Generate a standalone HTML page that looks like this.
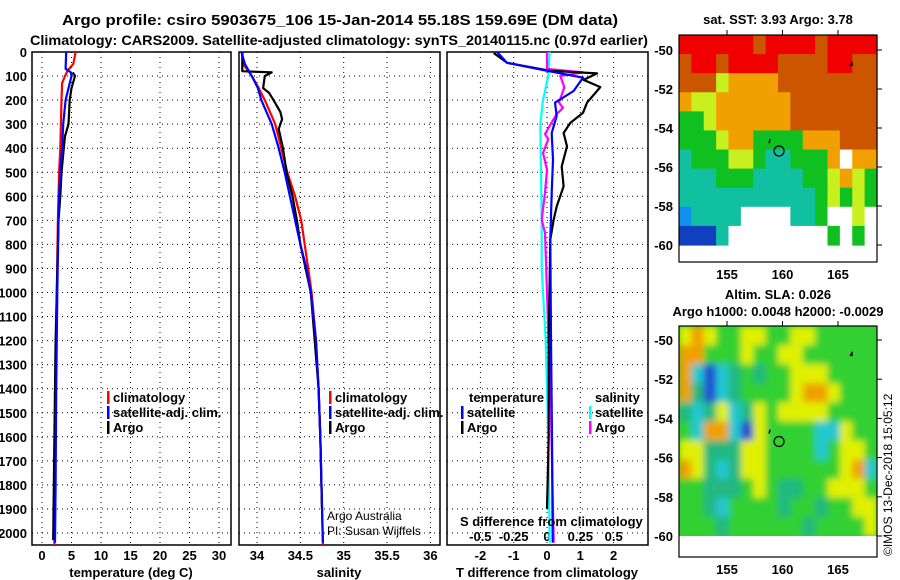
<!DOCTYPE html>
<html><head><meta charset="utf-8"><style>
html,body{margin:0;padding:0;background:#fff;}
svg{display:block;font-family:"Liberation Sans",sans-serif;}
.t{font-weight:bold;font-size:13px;fill:#000;}
.grid{stroke:#000;stroke-width:1;stroke-dasharray:1,4;}
</style></head><body>
<svg id="chart" width="900" height="580" viewBox="0 0 900 580">
<defs>
<filter id="blur" x="-5%" y="-5%" width="110%" height="110%"><feGaussianBlur stdDeviation="3.5"/></filter>
<clipPath id="clipSla"><rect x="679" y="326" width="198" height="210"/></clipPath>
</defs>
<text x="340" y="25" text-anchor="middle" class="t" style="font-size:15px" textLength="556" lengthAdjust="spacingAndGlyphs">Argo profile: csiro 5903675_106 15-Jan-2014 55.18S 159.69E (DM data)</text>
<text x="30" y="45" class="t" style="font-size:14px" textLength="618" lengthAdjust="spacingAndGlyphs">Climatology: CARS2009. Satellite-adjusted climatology: synTS_20140115.nc (0.97d earlier)</text>
<g id="g"></g>
</svg>
<script>
// ---- data ----
const tempClimDepth=[0,50,75,100,130,200,300,400,500,600,700,1000,1400,1800,2050];
const tempClim=[5.7,5.3,4.4,3.9,3.4,3.3,3.2,3.1,2.9,2.8,2.7,2.5,2.3,2.2,2.1];
const tempSatDepth=[0,70,85,100,150,200,300,400,500,600,700,1000,1400,1800,2040];
const tempSat=[4.1,4.0,4.9,5.0,4.5,4.0,3.6,3.4,3.1,2.9,2.8,2.6,2.4,2.3,2.2];
const tempArgoDepth=[85,100,150,200,250,300,350,400,500,600,700,800,1000,1200,1600,2030];
const tempArgo=[5.2,5.6,5.0,4.7,4.6,4.5,3.9,3.7,3.3,3.1,2.8,2.7,2.5,2.3,2.1,1.9];
const salClimDepth=[0,50,100,150,200,300,400,500,600,700,800,900,1000,1200,1400,1600,2050];
const salClim=[33.83,33.84,33.94,34.02,34.09,34.21,34.28,34.35,34.44,34.51,34.55,34.59,34.63,34.68,34.71,34.73,34.76];
const salSatDepth=[0,50,100,150,200,300,400,500,600,700,800,900,1000,1200,1400,1600,2040];
const salSat=[33.82,33.86,33.94,34.01,34.05,34.17,34.25,34.32,34.38,34.44,34.5,34.57,34.62,34.68,34.71,34.73,34.76];
const salArgoDepth=[0,80,85,100,150,170,200,250,280,320,400,500,600,700,800,1000,1400,1600,1900];
const salArgo=[33.83,33.83,34.17,34.09,34.07,34.14,34.19,34.27,34.29,34.25,34.30,34.34,34.41,34.46,34.5,34.62,34.71,34.73,34.75];
const tdSatDepth=[0,45,78,107,162,211,266,337,448,586,780,1200,1600,2040];
const tdSat=[-1.5,-1.2,0,1.08,0.8,0.24,0.29,0.14,0.18,0.14,0.1,0.12,0.15,0.17];
const tdArgoDepth=[4,45,78,89,116,146,211,253,295,337,392,476,559,642,697,780,1200,1600,1900];
const tdArgo=[-1.6,-1.2,0.1,1.5,1.1,1.6,1.2,1.08,0.7,0.5,0.6,0.44,0.5,0.29,0.2,0.1,0.05,0.05,0.0];
const sdSatDepth=[0,100,200,300,500,700,900,1200,1600,2040];
const sdSat=[0.02,0.01,-0.03,-0.05,-0.045,-0.04,-0.04,-0.01,0.01,0.02];
const sdArgoDepth=[0,70,85,100,146,211,232,260,341,362,420,489,586,697,752,1000,1500,2040];
const sdArgo=[0,0,0.27,0.1,0.13,0.09,0.12,0.07,-0.015,0.01,-0.03,0,-0.015,-0.04,-0.015,0.0,0.03,0.05];
const depthTicks=[0,100,200,300,400,500,600,700,800,900,1000,1100,1200,1300,1400,1500,1600,1700,1800,1900,2000];
const tempTicks=[0,5,10,15,20,25,30];
const salTicks=[34,34.5,35,35.5,36];
const tdTicks=[-2,-1,0,1,2];
const sdTicks=[-0.5,-0.25,0,0.25,0.5];
const mapLatTicks=[-50,-52,-54,-56,-58,-60];
const mapLonTicks=[155,160,165];
const sstRows=["RRRRRRORRRRORRRR","ORRORRRROOOORROO","OOOYooooOOOOOOOO","oYYooooooOOOOOOO","GGYooooooOOOOOOO","GGGYooGGGGoooOOO","TGGGYYGTTGGGoWoo","TTTGGGTTTTGGYoYG","TTTTTTTTTTTGYGYG","CTTTTWWWWTTGWWYW","BBBTWWWWWWWWGWGW"];
const slaRows=["yoyggyyggyyggggg","oogggyggyygggggg","ocbcGgGggyyygggg","oGbcGggggyooyggg","GcGycGygyyyygggg","gcoocbyggggccygg","yyGGGyyggggcgyyg","oyGcGyyggggggyoc","ggGGGgygGGggyyyg","ggGcggggGggGggyy","gggGggggggGggggy"];
const profLon=159.69, profLat=-55.18;
// ---- helpers / axes ----
const NS="http://www.w3.org/2000/svg";
const G=document.getElementById('g');
function mk(tag,attrs,parent){const e=document.createElementNS(NS,tag);for(const k in attrs)e.setAttribute(k,attrs[k]);(parent||G).appendChild(e);return e;}
const y0=52, pxPer=0.2405, yBot=545;
const depthY=d=>y0+d*pxPer;
const panels=[
 {x0:32,x1:231,sc:v=>42+v*5.9},
 {x0:239,x1:440,sc:v=>257+(v-34)*86.7},
 {x0:447,x1:648,sc:v=>547+v*33.3}
];
const sdX=v=>547+v*133.3;
panels.forEach((p,i)=>{
 const fr=mk('rect',{x:p.x0,y:y0,width:p.x1-p.x0,height:yBot-y0,fill:'none',stroke:'#000','stroke-width':1.5});
 
 
 depthTicks.forEach(d=>{const l=mk('line',{x1:p.x0,x2:p.x1,y1:depthY(d),y2:depthY(d),class:'grid'});
  
  });
 const ticks=i==0?tempTicks:i==1?salTicks:tdTicks;
 ticks.forEach(v=>{const x=p.sc(v);const l=mk('line',{x1:x,x2:x,y1:y0,y2:yBot,class:'grid'});
  
  
  const t=mk('text',{x:x,y:560,'text-anchor':'middle',class:'t'});t.textContent=v;
  
  });
});
depthTicks.forEach(d=>{const t=mk('text',{x:27,y:depthY(d)+5,'text-anchor':'end',class:'t'});t.textContent=d;
 
 });
sdTicks.forEach(v=>{const t=mk('text',{x:sdX(v),y:541,'text-anchor':'middle',class:'t'});t.textContent=v;
 
 });
function line(depths,vals,sc,color,name){
 const pts=depths.map((d,k)=>sc(vals[k]).toFixed(1)+','+depthY(d).toFixed(1)).join(' ');
 const pl=mk('polyline',{points:pts,fill:'none',stroke:color,'stroke-width':2.2,'stroke-linejoin':'round'});
 
 
}
line(tempClimDepth,tempClim,panels[0].sc,'#f00','temp-climatology-line');
line(tempArgoDepth,tempArgo,panels[0].sc,'#000','temp-argo-line');
line(tempSatDepth,tempSat,panels[0].sc,'#00f','temp-satellite-line');
line(salClimDepth,salClim,panels[1].sc,'#f00','sal-climatology-line');
line(salArgoDepth,salArgo,panels[1].sc,'#000','sal-argo-line');
line(salSatDepth,salSat,panels[1].sc,'#00f','sal-satellite-line');
line(sdSatDepth,sdSat,sdX,'#0ff','s-diff-satellite-line');
line(sdArgoDepth,sdArgo,sdX,'#f0f','s-diff-argo-line');
line(tdArgoDepth,tdArgo,panels[2].sc,'#000','t-diff-argo-line');
line(tdSatDepth,tdSat,panels[2].sc,'#00f','t-diff-satellite-line');
function txt(x,y,s,name,extra){const t=mk('text',Object.assign({x:x,y:y,class:'t'},extra||{}));t.textContent=s;
 
 return t;}
function leg(x,y,color,s,name){const r=mk('rect',{x:x,y:y-11,width:2.5,height:13,fill:color});
 
 
 txt(x+6,y,s,name);}
leg(107,402,'#f00','climatology','legend-climatology');
leg(107,417,'#00f','satellite-adj. clim.','legend-satellite-adj');
leg(107,432,'#000','Argo','legend-argo');
leg(329,402,'#f00','climatology','legend2-climatology');
leg(329,417,'#00f','satellite-adj. clim.','legend2-satellite-adj');
leg(329,432,'#000','Argo','legend2-argo');
txt(469,402,'temperature','legend-temperature-header');
leg(461,417,'#00f','satellite','legend-t-satellite');
leg(461,432,'#000','Argo','legend-t-argo');
txt(595,402,'salinity','legend-salinity-header');
leg(589,417,'#0ff','satellite','legend-s-satellite');
leg(589,432,'#f0f','Argo','legend-s-argo');
txt(327,520,'Argo Australia','argo-australia-label',{style:'font-weight:normal;font-size:12px'});
txt(327,535,'PI: Susan Wijffels','pi-label',{style:'font-weight:normal;font-size:12px'});
txt(460,526,'S difference from climatology','s-diff-axis-title');
txt(131,577,'temperature (deg C)','temp-axis-title',{'text-anchor':'middle'});
txt(339,577,'salinity','sal-axis-title',{'text-anchor':'middle'});
txt(547,577,'T difference from climatology','t-diff-axis-title',{'text-anchor':'middle'});
// ---- maps ----
const mx0=679,mx1=877;
const lonX=lo=>727+(lo-155)*11.1;
const sstColors={R:'#f00000',O:'#cc5500',o:'#f0a000',Y:'#c8f020',G:'#10c020',T:'#10c0a0',C:'#1090f0',B:'#1040c0',W:'#ffffff'};
const slaColors={g:'#30d030',G:'#20b880',y:'#e0f000',o:'#f0a000',c:'#20c8d0',b:'#2050d0'};
function drawMap(top,bot,latY,rows,colors,title1,title2,blur,nm){
 const dataTop=top, dataBot=latY(-60);
 const grp=mk('g',{});
 
 
 let inner=grp;
 if(blur){mk('rect',{x:mx0,y:dataTop,width:mx1-mx0,height:dataBot-dataTop,fill:'#30d030'},grp);
  const c=mk('g',{'clip-path':'url(#clipSla)'},grp);inner=mk('g',{filter:'url(#blur)'},c);}
 const nr=rows.length, rh=(dataBot-dataTop)/nr;
 rows.forEach((row,r)=>{const cells=row.slice(0,16);const nc=cells.length,cw=(mx1-mx0)/nc;
  for(let c=0;c<nc;c++){const cell=mk('rect',{x:mx0+c*cw,y:dataTop+r*rh,width:cw+0.6,height:rh+0.6,fill:colors[cells[c]]||'#fff'},inner);
   
   }});
 const fr=mk('rect',{x:mx0,y:top,width:mx1-mx0,height:bot-top,fill:'none',stroke:'#000','stroke-width':1.2});
 
 
 mapLatTicks.forEach(la=>{const y=latY(la);txt(673,y+5,la,'map-lat-label',{'text-anchor':'end'});
  const tk=mk('line',{x1:mx1,x2:mx1+5,y1:y,y2:y,stroke:'#000'});
  
  });
 mapLonTicks.forEach(lo=>{txt(lonX(lo),bot+17,lo,'map-lon-label',{'text-anchor':'middle'});
  const tk=mk('line',{x1:lonX(lo),x2:lonX(lo),y1:top,y2:top-5,stroke:'#000'});
  
  });
 const cx=lonX(profLon), cy=latY(profLat);
 const ci=mk('circle',{cx:cx,cy:cy,r:5,fill:'none',stroke:'#000','stroke-width':1.2});
 
 
 mk('line',{x1:cx-10,y1:cy-8,x2:cx-9,y2:cy-12,stroke:'#000','stroke-width':1.5});
 mk('path',{d:`M${lonX(166.1)},${latY(-50.8)} l2,-4 l0,4 z`,fill:'#000',stroke:'#000'});
 txt(778,top-(title2?27:11),title1,nm+'-title',{'text-anchor':'middle'});
 if(title2)txt(778,top-10,title2,nm+'-subtitle',{'text-anchor':'middle'});
}
drawMap(35,262,la=>50+(-50-la)*19.5,sstRows,sstColors,'sat. SST: 3.93 Argo: 3.78',null,false,'sst-map');
drawMap(326,557,la=>340+(-50-la)*19.6,slaRows,slaColors,'Altim. SLA: 0.026','Argo h1000: 0.0048 h2000: -0.0029',true,'sla-map');
txt(0,0,'©IMOS 13-Dec-2018 15:05:12','imos-credit',{transform:'translate(892,556) rotate(-90)',style:'font-weight:normal;font-size:12px'});
</script>
</body></html>
